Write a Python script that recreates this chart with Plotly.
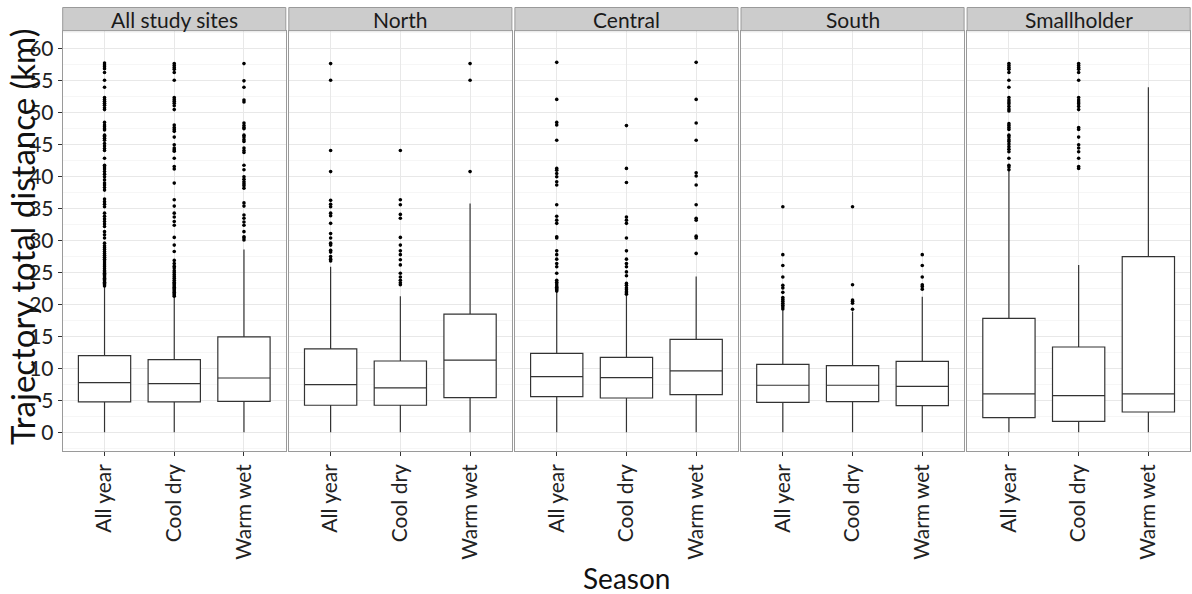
import plotly.graph_objects as go

# ---- data -------------------------------------------------------------
seasons = ["All year", "Cool dry", "Warm wet"]
facets = ["All study sites", "North", "Central", "South", "Smallholder"]

# box statistics per facet, one value per season
q1 = [
    [4.75, 4.75, 4.85],
    [4.23, 4.23, 5.43],
    [5.58, 5.37, 5.90],
    [4.69, 4.80, 4.17],
    [2.30, 1.72, 3.18],
]
median = [
    [7.77, 7.62, 8.50],
    [7.46, 6.94, 11.30],
    [8.71, 8.56, 9.60],
    [7.36, 7.36, 7.20],
    [6.00, 5.74, 6.00],
]
q3 = [
    [12.00, 11.37, 14.92],
    [13.04, 11.16, 18.50],
    [12.36, 11.74, 14.55],
    [10.64, 10.43, 11.10],
    [17.84, 13.35, 27.50],
]
whisker_low = [
    [0.0, 0.0, 0.0],
    [0.0, 0.0, 0.0],
    [0.0, 0.0, 0.0],
    [0.0, 0.0, 0.0],
    [0.0, 0.0, 0.0],
]
whisker_high = [
    [22.8, 21.2, 28.6],
    [25.9, 21.3, 35.8],
    [22.0, 21.4, 24.4],
    [19.1, 18.9, 21.2],
    [40.9, 26.2, 54.0],
]

# outlying trajectories, per facet and season
out_all_sites = [
    [22.9, 23.1, 23.3, 23.5, 23.7, 23.9, 24.1, 24.3, 24.5, 24.7, 24.9, 25.1,
     25.3, 25.6, 25.9, 26.2, 26.5, 26.8, 27.1, 27.4, 27.7, 28.0, 28.3, 28.6,
     28.9, 29.2, 29.6, 30.4, 30.9, 31.4, 32.2, 32.6, 33.0, 33.4, 33.8, 34.3,
     35.3, 35.7, 36.1, 36.5, 37.9, 38.3, 38.7, 39.0, 39.5, 40.0, 40.4, 40.8,
     41.2, 41.5, 41.8, 42.9, 44.1, 44.4, 44.8, 45.2, 45.7, 46.0, 46.3, 46.5,
     47.3, 47.5, 47.8, 48.1, 48.5, 50.5, 50.8, 51.2, 51.5, 51.8, 52.1, 52.4,
     54.0, 55.1, 56.3, 56.9, 57.2, 57.5, 57.8],
    [21.3, 21.5, 21.7, 21.9, 22.1, 22.3, 22.5, 22.7, 22.9, 23.1, 23.3, 23.5,
     23.8, 24.1, 24.4, 24.7, 25.0, 25.3, 25.7, 26.0, 26.4, 26.9, 28.3, 29.3,
     30.5, 32.4, 33.0, 33.7, 34.3, 35.4, 36.4, 39.0, 41.2, 41.6, 42.9, 44.0,
     44.2, 44.5, 45.0, 46.2, 47.1, 47.4, 47.7, 48.1, 50.5, 51.1, 51.5, 51.8,
     52.1, 52.4, 55.1, 56.3, 56.8, 57.1, 57.4, 57.7],
    [30.1, 30.4, 30.6, 31.4, 32.4, 32.9, 33.5, 34.0, 35.4, 35.9, 38.2, 38.6,
     38.9, 39.2, 39.6, 40.0, 41.1, 41.8, 43.8, 44.1, 44.5, 45.5, 45.8, 46.2,
     46.5, 47.5, 47.7, 48.0, 48.4, 51.7, 52.0, 54.0, 55.0, 57.7],
]
out_north = [
    [26.8, 27.1, 27.5, 28.2, 28.5, 29.3, 29.6, 30.4, 31.1, 32.7, 33.9, 34.3,
     35.3, 35.7, 36.3, 40.8, 44.1, 55.1, 57.7],
    [23.1, 23.4, 23.8, 24.3, 24.9, 26.2, 27.0, 27.8, 28.4, 29.3, 30.5, 33.5,
     34.1, 35.6, 36.4, 44.1],
    [40.8, 55.1, 57.7],
]
out_central = [
    [22.1, 22.3, 22.5, 22.7, 22.9, 23.2, 23.5, 23.8, 24.9, 25.9, 26.4, 27.1,
     27.8, 28.4, 30.4, 30.6, 32.7, 33.2, 33.8, 35.6, 38.7, 39.2, 40.0, 40.5,
     41.0, 41.3, 45.7, 48.1, 48.5, 52.1, 57.9],
    [21.6, 21.8, 22.0, 22.3, 22.6, 23.0, 23.3, 24.5, 25.1, 25.9, 26.4, 27.1,
     28.4, 30.4, 32.7, 33.2, 33.7, 39.1, 41.3, 48.0],
    [28.0, 30.4, 30.7, 33.2, 33.5, 35.6, 38.7, 40.1, 40.6, 45.7, 48.4, 52.1,
     57.9],
]
out_south = [
    [19.3, 19.6, 19.9, 20.2, 20.5, 20.8, 21.1, 21.9, 22.6, 23.0, 24.3, 26.1,
     27.8, 35.3],
    [19.25, 20.2, 20.5, 20.7, 23.1, 35.3],
    [22.4, 22.8, 23.1, 24.3, 26.1, 27.8],
]
out_smallholder = [
    [41.1, 41.5, 41.8, 42.9, 43.9, 44.3, 44.7, 45.1, 45.5, 45.8, 46.2, 46.5,
     47.4, 47.7, 48.0, 48.3, 50.3, 50.6, 51.0, 51.4, 51.7, 52.0, 52.4, 54.0,
     55.1, 56.3, 56.8, 57.1, 57.4, 57.7],
    [41.3, 41.6, 42.9, 43.9, 44.5, 45.0, 46.2, 47.4, 47.7, 50.5, 51.0, 51.4,
     51.7, 52.0, 52.4, 55.1, 56.3, 56.8, 57.1, 57.4, 57.7],
    [],
]
outliers = [out_all_sites, out_north, out_central, out_south, out_smallholder]

y_ticks = list(range(0, 61, 5))

# ---- layout geometry (pixels) -------------------------------------------
W, H = 1192, 594
panel_left0 = 62.7
panel_width = 223.1
panel_gap = 3.0
panel_top, panel_bottom = 30.7, 450.7
strip_top = 7.5

FONT = "Lato"
DARK = "#333333"
BORDER = "#9a9a9a"
GRID = "#E8E8E8"
MINOR = "#F6F6F6"

def px_x(x):
    return x / W

def px_y(y):
    return 1 - y / H

fig = go.Figure()
layout = dict(
    width=W, height=H,
    margin=dict(l=0, r=0, t=0, b=0),
    paper_bgcolor="white", plot_bgcolor="white",
    showlegend=False,
    font=dict(family=FONT, color="#222222"),
)
shapes, annotations = [], []

for i, facet in enumerate(facets):
    n = i + 1
    xa = "x" if n == 1 else f"x{n}"
    ya = "y" if n == 1 else f"y{n}"
    left = panel_left0 + i * (panel_width + panel_gap)
    right = left + panel_width

    # boxes from precomputed statistics
    fig.add_trace(go.Box(
        x=seasons,
        q1=q1[i], median=median[i], q3=q3[i],
        lowerfence=whisker_low[i], upperfence=whisker_high[i],
        boxpoints=False, width=0.75, whiskerwidth=0,
        fillcolor="white",
        line=dict(color=DARK, width=1.2),
        xaxis=xa, yaxis=ya, hoverinfo="skip",
    ))
    # outliers
    ox, oy = [], []
    for s, vals in zip(seasons, outliers[i]):
        ox += [s] * len(vals)
        oy += vals
    fig.add_trace(go.Scatter(
        x=ox, y=oy, mode="markers",
        marker=dict(color="black", size=3.6),
        xaxis=xa, yaxis=ya, hoverinfo="skip",
    ))

    xkey = "xaxis" if n == 1 else f"xaxis{n}"
    ykey = "yaxis" if n == 1 else f"yaxis{n}"
    layout[xkey] = dict(
        domain=[px_x(left), px_x(right)],
        anchor=ya, type="category",
        categoryorder="array", categoryarray=seasons,
        range=[-0.6, 2.6],
        showgrid=True, gridcolor=GRID, gridwidth=1,
        showline=True, linecolor=BORDER, linewidth=1, mirror=True,
        ticks="outside", ticklen=4, tickcolor=DARK, tickwidth=1,
        tickangle=-90,
        tickfont=dict(family=FONT, size=21, color="#222222"),
        zeroline=False, fixedrange=True,
    )
    yax = dict(
        domain=[px_y(panel_bottom), px_y(panel_top)],
        anchor=xa, range=[-2.88, 62.85],
        tickvals=y_ticks,
        showgrid=True, gridcolor=GRID, gridwidth=1,
        minor=dict(dtick=2.5, tick0=0, showgrid=True, gridcolor=MINOR,
                   gridwidth=1),
        showline=True, linecolor=BORDER, linewidth=1, mirror=True,
        zeroline=False, fixedrange=True,
    )
    if n == 1:
        yax.update(ticks="outside", ticklen=4, tickcolor=DARK, tickwidth=1,
                   showticklabels=True,
                   tickfont=dict(family=FONT, size=21, color="#222222"))
    else:
        yax.update(matches="y", showticklabels=False, ticks="")
    layout[ykey] = yax

    # facet strip
    shapes.append(dict(
        type="rect", xref="paper", yref="paper",
        x0=px_x(left), x1=px_x(right),
        y0=px_y(panel_top), y1=px_y(strip_top),
        fillcolor="#CCCCCC", line=dict(color=BORDER, width=1), layer="above",
    ))
    annotations.append(dict(
        text=facet, xref="paper", yref="paper",
        x=px_x((left + right) / 2), y=px_y((panel_top + strip_top) / 2),
        xanchor="center", yanchor="middle", showarrow=False,
        font=dict(family=FONT, size=21, color="#1a1a1a"),
    ))

# axis titles
annotations.append(dict(
    text="Trajectory total distance (km)", xref="paper", yref="paper",
    x=px_x(22), y=px_y(237),
    xanchor="center", yanchor="middle", textangle=-90, showarrow=False,
    font=dict(family=FONT, size=33, color="#111111"),
))
annotations.append(dict(
    text="Season", xref="paper", yref="paper",
    x=px_x(626), y=px_y(578),
    xanchor="center", yanchor="middle", showarrow=False,
    font=dict(family=FONT, size=28, color="#111111"),
))

layout["shapes"] = shapes
layout["annotations"] = annotations
fig.update_layout(**layout)

fig.write_html("out.html")
